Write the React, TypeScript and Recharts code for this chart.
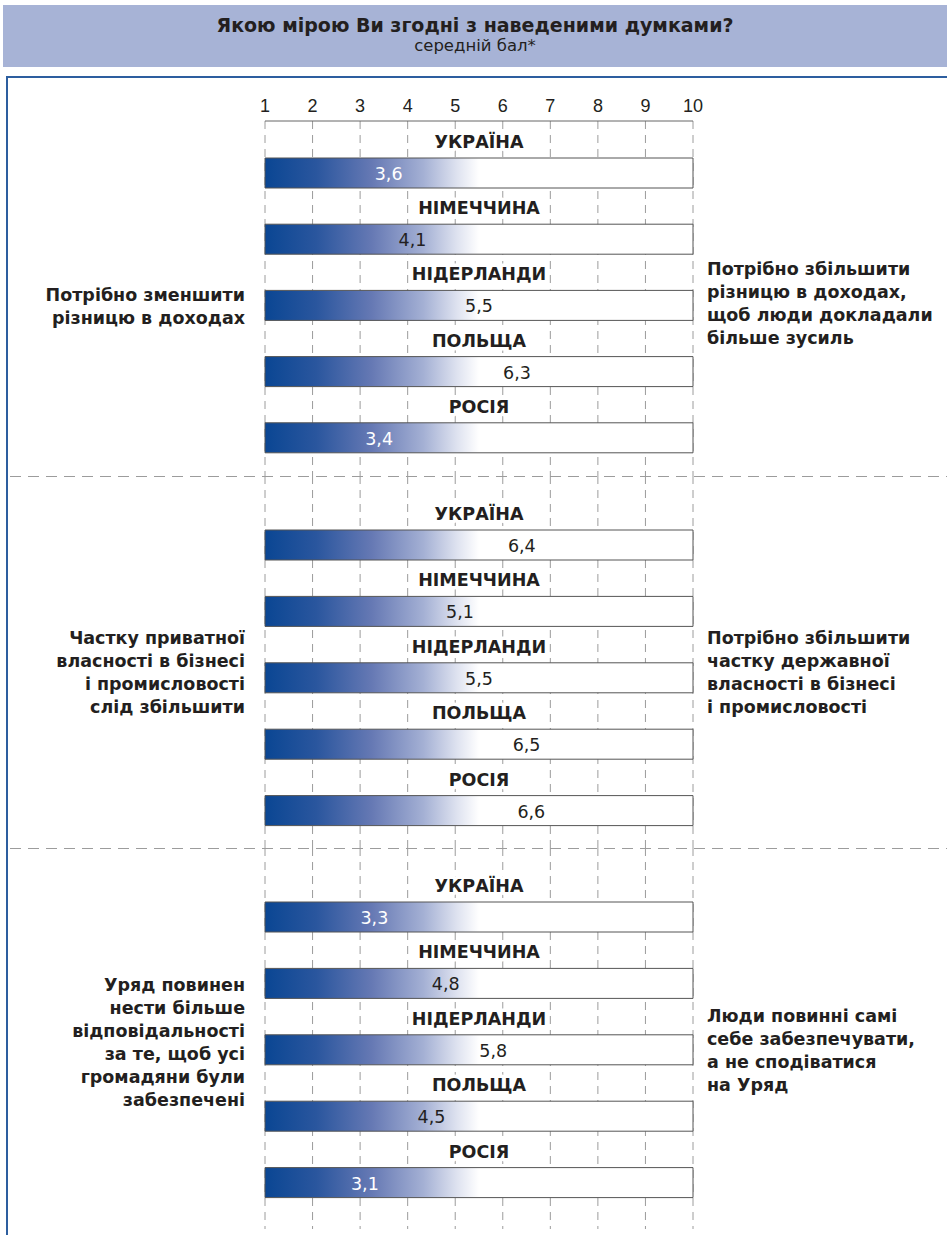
import React from "react";
import { Bar, BarChart, CartesianGrid, LabelList, XAxis, YAxis } from "recharts";

// scale of the question (1 .. 10)
const SCALE_MIN = 1;
const SCALE_MAX = 10;
const scaleTicks = [1, 2, 3, 4, 5, 6, 7, 8, 9, 10];

const countries = ["УКРАЇНА", "НІМЕЧЧИНА", "НІДЕРЛАНДИ", "ПОЛЬЩА", "РОСІЯ"];

// mean scores per statement, same order as countries
const incomeScores = [3.6, 4.1, 5.5, 6.3, 3.4];
const ownershipScores = [6.4, 5.1, 5.5, 6.5, 6.6];
const governmentScores = [3.3, 4.8, 5.8, 4.5, 3.1];

const leftLabels = [
  ["Потрібно зменшити", "різницю в доходах"],
  ["Частку приватної", "власності в бізнесі", "і промисловості", "слід збільшити"],
  ["Уряд повинен", "нести більше", "відповідальності", "за те, щоб усі", "громадяни були", "забезпечені"],
];
const rightLabels = [
  ["Потрібно збільшити", "різницю в доходах,", "щоб люди докладали", "більше зусиль"],
  ["Потрібно збільшити", "частку державної", "власності в бізнесі", "і промисловості"],
  ["Люди повинні самі", "себе забезпечувати,", "а не сподіватися", "на Уряд"],
];

const TITLE = "Якою мірою Ви згодні з наведеними думками?";
const SUBTITLE = "середній бал*";

const FONT = "'DejaVu Sans', sans-serif";
const TEXT = "#231f20";

function CountryLabel(props: any) {
  const { x, y, width, value } = props;
  return (
    <text
      x={x + width / 2}
      y={y - 16}
      textAnchor="middle"
      dominantBaseline="central"
      fontFamily={FONT}
      fontWeight="bold"
      fontSize={17.5}
      fill={TEXT}
      stroke="#fff"
      strokeWidth={7}
      strokeLinejoin="round"
      paintOrder="stroke"
    >
      {value}
    </text>
  );
}

function ValueLabel(props: any) {
  const { x, y, width, height, value } = props;
  const light = value < 4;
  return (
    <text
      x={x + width}
      y={y + height / 2 + 1}
      textAnchor="middle"
      dominantBaseline="central"
      fontFamily={FONT}
      fontSize={17.5}
      fill={light ? "#ffffff" : TEXT}
    >
      {String(value).replace(".", ",")}
    </text>
  );
}

interface PanelProps {
  id: string;
  scores: number[];
  top: number;
  height: number;
  marginTop: number;
  padTop: number;
  padBottom: number;
  showAxis: boolean;
}

function Panel({ id, scores, top, height, marginTop, padTop, padBottom, showAxis }: PanelProps) {
  const data = countries.map((country, i) => ({
    country,
    full: [SCALE_MIN, SCALE_MAX],
    score: scores[i],
  }));
  return (
    <div style={{ position: "absolute", left: 0, top }}>
      <BarChart
        width={947}
        height={height}
        data={data}
        layout="vertical"
        margin={{ top: marginTop, right: 254, bottom: 0, left: 265 }}
        barCategoryGap={0}
      >
        <defs>
          <linearGradient id={id} x1="0" y1="0" x2="1" y2="0">
            <stop offset="0" stopColor="#0a4693" />
            <stop offset="0.12" stopColor="#2a569e" />
            <stop offset="0.25" stopColor="#6679b4" />
            <stop offset="0.37" stopColor="#a4b0d4" />
            <stop offset="0.45" stopColor="#dfe3f0" />
            <stop offset="0.5" stopColor="#ffffff" />
            <stop offset="1" stopColor="#ffffff" />
          </linearGradient>
        </defs>
        <CartesianGrid horizontal={false} stroke="#9c9c9c" strokeDasharray="8 6" />
        <XAxis
          type="number"
          domain={[SCALE_MIN, SCALE_MAX]}
          ticks={scaleTicks}
          orientation="top"
          hide={!showAxis}
          height={showAxis ? 30 : 0}
          axisLine={{ stroke: "#666" }}
          tickLine={false}
          tickSize={0}
          tickMargin={9}
          tick={{ fontFamily: "'Liberation Sans Narrow', 'Liberation Sans', sans-serif", fontSize: 18, fill: TEXT }}
        />
        <YAxis type="category" dataKey="country" hide width={0} padding={{ top: padTop, bottom: padBottom }} />
        <YAxis yAxisId="s" type="category" dataKey="country" hide width={0} padding={{ top: padTop, bottom: padBottom }} />
        <Bar dataKey="full" barSize={30} fill={`url(#${id})`} stroke="#555" strokeWidth={1} isAnimationActive={false}>
          <LabelList dataKey="country" content={CountryLabel} />
        </Bar>
        <Bar dataKey="score" yAxisId="s" barSize={30} fill="none" stroke="none" isAnimationActive={false}>
          <LabelList dataKey="score" content={ValueLabel} />
        </Bar>
      </BarChart>
    </div>
  );
}

function SideLabel({ lines, centerY, side }: { lines: string[]; centerY: number; side: "left" | "right" }) {
  const lh = 23;
  const style: React.CSSProperties = {
    position: "absolute",
    top: centerY - (lines.length * lh) / 2,
    fontFamily: FONT,
    fontWeight: "bold",
    fontSize: 17.5,
    lineHeight: `${lh}px`,
    color: TEXT,
    whiteSpace: "nowrap",
  };
  if (side === "left") {
    style.left = 0;
    style.width = 245;
    style.textAlign = "right";
  } else {
    style.left = 707;
  }
  return (
    <div style={style}>
      {lines.map((l) => (
        <div key={l}>{l}</div>
      ))}
    </div>
  );
}

export default function App() {
  return (
    <div style={{ position: "absolute", left: 0, top: 0, width: 947, height: 1235, overflow: "hidden", background: "#fff" }}>
      <div
        style={{
          position: "absolute",
          left: 3,
          top: 5,
          width: 944,
          height: 62,
          background: "#a7b3d6",
          textAlign: "center",
          fontFamily: FONT,
          color: TEXT,
        }}
      >
        <div style={{ fontWeight: "bold", fontSize: 19, lineHeight: "22px", marginTop: 9 }}>{TITLE}</div>
        <div style={{ fontSize: 16.5, lineHeight: "20px" }}>{SUBTITLE}</div>
      </div>
      <div
        style={{
          position: "absolute",
          left: 6,
          top: 76,
          width: 960,
          height: 1200,
          borderTop: "2px solid #2d5e9f",
          borderLeft: "2px solid #2d5e9f",
        }}
      />
      <Panel id="g1" scores={incomeScores} top={0} height={476} marginTop={91} padTop={19} padBottom={5} showAxis />
      <Panel id="g2" scores={ownershipScores} top={476} height={372} marginTop={0} padTop={36} padBottom={4} showAxis={false} />
      <Panel id="g3" scores={governmentScores} top={848} height={381} marginTop={0} padTop={36} padBottom={13} showAxis={false} />
      <svg width={947} height={1235} style={{ position: "absolute", left: 0, top: 0, pointerEvents: "none" }}>
        <line x1={10} x2={947} y1={476.5} y2={476.5} stroke="#9c9c9c" strokeDasharray="11 7" />
        <line x1={10} x2={947} y1={848.5} y2={848.5} stroke="#9c9c9c" strokeDasharray="11 7" />
      </svg>
      <SideLabel lines={leftLabels[0]} centerY={307} side="left" />
      <SideLabel lines={rightLabels[0]} centerY={304} side="right" />
      <SideLabel lines={leftLabels[1]} centerY={673} side="left" />
      <SideLabel lines={rightLabels[1]} centerY={673} side="right" />
      <SideLabel lines={leftLabels[2]} centerY={1043} side="left" />
      <SideLabel lines={rightLabels[2]} centerY={1051} side="right" />
    </div>
  );
}
